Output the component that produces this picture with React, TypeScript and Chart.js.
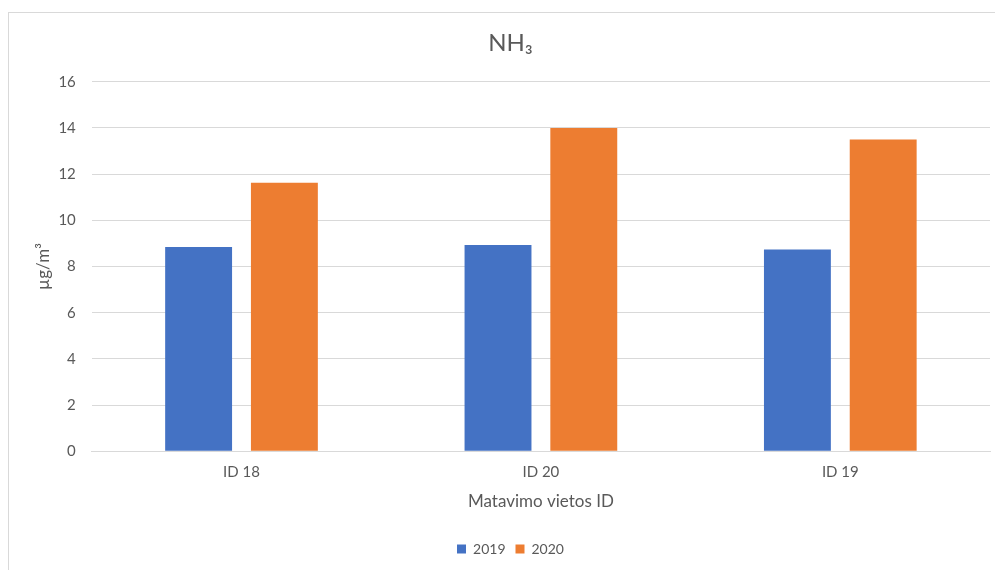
import React, { useEffect, useRef } from "react";
import { Chart, registerables } from "chart.js";

Chart.register(...registerables);

const categories = ["ID 18", "ID 20", "ID 19"];
const values2019 = [8.85, 8.93, 8.74];
const values2020 = [11.63, 14.0, 13.5];
const seriesLabels = ["2019", "2020"];
const chartTitle = "NH₃";
const yTitle = "µg/m³";
const xTitle = "Matavimo vietos ID";

const FONT = "Lato, 'Noto Sans', 'DejaVu Sans', sans-serif";
const GRAY = "#595959";

export default function App() {
  const ref = useRef<HTMLCanvasElement | null>(null);
  useEffect(() => {
    if (!ref.current) return;
    const chart = new Chart(ref.current, {
      type: "bar",
      data: {
        labels: categories,
        datasets: [
          {
            label: seriesLabels[0],
            data: values2019,
            backgroundColor: "#4472C4",
            categoryPercentage: 0.573,
            barPercentage: 0.78,
          },
          {
            label: seriesLabels[1],
            data: values2020,
            backgroundColor: "#ED7D31",
            categoryPercentage: 0.573,
            barPercentage: 0.78,
          },
        ],
      },
      options: {
        animation: false,
        responsive: false,
        devicePixelRatio: 1,
        layout: { padding: { left: 22, right: 39, top: 0, bottom: 4 } },
        plugins: {
          title: {
            display: true,
            text: chartTitle,
            color: GRAY,
            font: { family: FONT, size: 24, weight: "normal" },
            padding: { top: 16, bottom: 24 },
          },
          legend: {
            position: "bottom",
            labels: {
              color: GRAY,
              font: { family: FONT, size: 14 },
              boxWidth: 9,
              boxHeight: 9,
              padding: 10,
            },
          },
          tooltip: { enabled: false },
        },
        scales: {
          x: {
            grid: { display: false },
            border: { display: true, color: "#d9d9d9", width: 1 },
            ticks: { color: GRAY, font: { family: FONT, size: 15 }, padding: 4 },
            title: {
              display: true,
              text: xTitle,
              color: GRAY,
              font: { family: FONT, size: 17 },
              padding: { top: 6.4, bottom: 20 },
            },
          },
          y: {
            min: 0,
            max: 16,
            ticks: { stepSize: 2, color: GRAY, font: { family: FONT, size: 15 }, padding: 16 },
            grid: { color: "#d9d9d9", drawTicks: false, lineWidth: 1 },
            border: { display: false },
            title: {
              display: true,
              text: yTitle,
              color: GRAY,
              font: { family: FONT, size: 17 },
              padding: { top: 2, bottom: -11 },
            },
          },
        },
      },
    });
    return () => chart.destroy();
  }, []);
  return (
    <div
      style={{
        position: "absolute",
        top: 12,
        left: 8,
        width: 986,
        height: 557,
        borderTop: "1px solid #d9d9d9",
        borderLeft: "1px solid #d9d9d9",
        overflow: "hidden",
        background: "#fff",
      }}
    >
      <canvas ref={ref} width={1020} height={557} style={{ display: "block" }} />
    </div>
  );
}
